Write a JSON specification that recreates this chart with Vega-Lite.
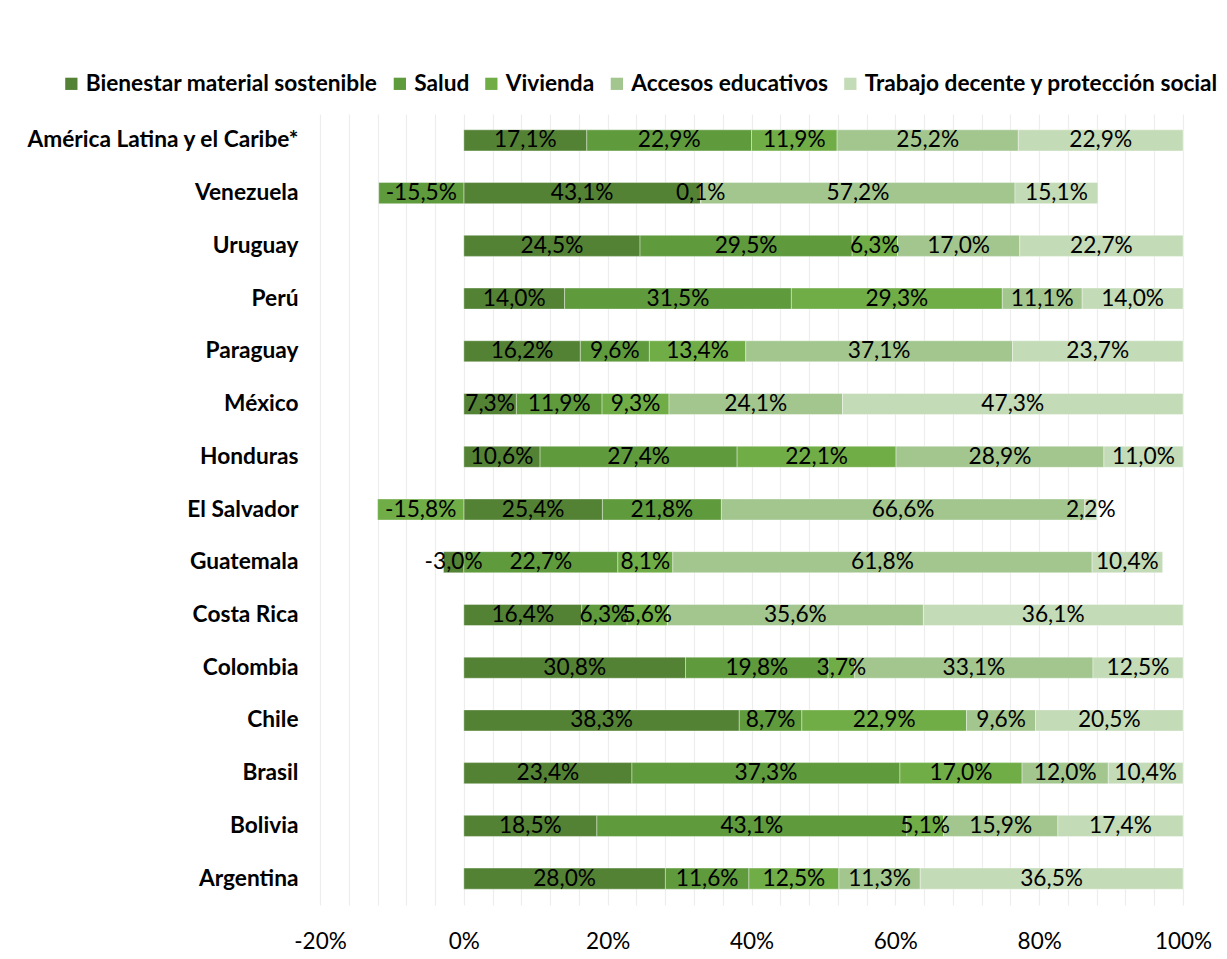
{
  "$schema": "https://vega.github.io/schema/vega-lite/v6.json",
  "width": 863,
  "height": 791,
  "autosize": {"type": "none"},
  "padding": {"left": 320, "top": 114, "right": 44, "bottom": 54},
  "background": "white",
  "config": {
    "font": "Lato",
    "view": {"stroke": null},
    "axisX": {"labelOverlap": false, "labelFlush": false, "tickCount": 100},
    "locale": {"number": {"decimal": ",", "thousands": ".", "grouping": [3], "currency": ["", ""], "minus": "-"}}
  },
  "data": {"values": [
    {"c": "América Latina y el Caribe*", "s": "Bienestar material sostenible", "k": 1, "v": 17.1},
    {"c": "América Latina y el Caribe*", "s": "Salud", "k": 2, "v": 22.9},
    {"c": "América Latina y el Caribe*", "s": "Vivienda", "k": 3, "v": 11.9},
    {"c": "América Latina y el Caribe*", "s": "Accesos educativos", "k": 4, "v": 25.2},
    {"c": "América Latina y el Caribe*", "s": "Trabajo decente y protección social", "k": 5, "v": 22.9},
    {"c": "Venezuela", "s": "Bienestar material sostenible", "k": 1, "v": 43.1},
    {"c": "Venezuela", "s": "Salud", "k": 2, "v": -15.5},
    {"c": "Venezuela", "s": "Vivienda", "k": 3, "v": 0.1},
    {"c": "Venezuela", "s": "Accesos educativos", "k": 4, "v": 57.2},
    {"c": "Venezuela", "s": "Trabajo decente y protección social", "k": 5, "v": 15.1},
    {"c": "Uruguay", "s": "Bienestar material sostenible", "k": 1, "v": 24.5},
    {"c": "Uruguay", "s": "Salud", "k": 2, "v": 29.5},
    {"c": "Uruguay", "s": "Vivienda", "k": 3, "v": 6.3},
    {"c": "Uruguay", "s": "Accesos educativos", "k": 4, "v": 17.0},
    {"c": "Uruguay", "s": "Trabajo decente y protección social", "k": 5, "v": 22.7},
    {"c": "Perú", "s": "Bienestar material sostenible", "k": 1, "v": 14.0},
    {"c": "Perú", "s": "Salud", "k": 2, "v": 31.5},
    {"c": "Perú", "s": "Vivienda", "k": 3, "v": 29.3},
    {"c": "Perú", "s": "Accesos educativos", "k": 4, "v": 11.1},
    {"c": "Perú", "s": "Trabajo decente y protección social", "k": 5, "v": 14.0},
    {"c": "Paraguay", "s": "Bienestar material sostenible", "k": 1, "v": 16.2},
    {"c": "Paraguay", "s": "Salud", "k": 2, "v": 9.6},
    {"c": "Paraguay", "s": "Vivienda", "k": 3, "v": 13.4},
    {"c": "Paraguay", "s": "Accesos educativos", "k": 4, "v": 37.1},
    {"c": "Paraguay", "s": "Trabajo decente y protección social", "k": 5, "v": 23.7},
    {"c": "México", "s": "Bienestar material sostenible", "k": 1, "v": 7.3},
    {"c": "México", "s": "Salud", "k": 2, "v": 11.9},
    {"c": "México", "s": "Vivienda", "k": 3, "v": 9.3},
    {"c": "México", "s": "Accesos educativos", "k": 4, "v": 24.1},
    {"c": "México", "s": "Trabajo decente y protección social", "k": 5, "v": 47.3},
    {"c": "Honduras", "s": "Bienestar material sostenible", "k": 1, "v": 10.6},
    {"c": "Honduras", "s": "Salud", "k": 2, "v": 27.4},
    {"c": "Honduras", "s": "Vivienda", "k": 3, "v": 22.1},
    {"c": "Honduras", "s": "Accesos educativos", "k": 4, "v": 28.9},
    {"c": "Honduras", "s": "Trabajo decente y protección social", "k": 5, "v": 11.0},
    {"c": "El Salvador", "s": "Bienestar material sostenible", "k": 1, "v": 25.4},
    {"c": "El Salvador", "s": "Salud", "k": 2, "v": 21.8},
    {"c": "El Salvador", "s": "Vivienda", "k": 3, "v": -15.8},
    {"c": "El Salvador", "s": "Accesos educativos", "k": 4, "v": 66.6},
    {"c": "El Salvador", "s": "Trabajo decente y protección social", "k": 5, "v": 2.2},
    {"c": "Guatemala", "s": "Bienestar material sostenible", "k": 1, "v": -3.0},
    {"c": "Guatemala", "s": "Salud", "k": 2, "v": 22.7},
    {"c": "Guatemala", "s": "Vivienda", "k": 3, "v": 8.1},
    {"c": "Guatemala", "s": "Accesos educativos", "k": 4, "v": 61.8},
    {"c": "Guatemala", "s": "Trabajo decente y protección social", "k": 5, "v": 10.4},
    {"c": "Costa Rica", "s": "Bienestar material sostenible", "k": 1, "v": 16.4},
    {"c": "Costa Rica", "s": "Salud", "k": 2, "v": 6.3},
    {"c": "Costa Rica", "s": "Vivienda", "k": 3, "v": 5.6},
    {"c": "Costa Rica", "s": "Accesos educativos", "k": 4, "v": 35.6},
    {"c": "Costa Rica", "s": "Trabajo decente y protección social", "k": 5, "v": 36.1},
    {"c": "Colombia", "s": "Bienestar material sostenible", "k": 1, "v": 30.8},
    {"c": "Colombia", "s": "Salud", "k": 2, "v": 19.8},
    {"c": "Colombia", "s": "Vivienda", "k": 3, "v": 3.7},
    {"c": "Colombia", "s": "Accesos educativos", "k": 4, "v": 33.1},
    {"c": "Colombia", "s": "Trabajo decente y protección social", "k": 5, "v": 12.5},
    {"c": "Chile", "s": "Bienestar material sostenible", "k": 1, "v": 38.3},
    {"c": "Chile", "s": "Salud", "k": 2, "v": 8.7},
    {"c": "Chile", "s": "Vivienda", "k": 3, "v": 22.9},
    {"c": "Chile", "s": "Accesos educativos", "k": 4, "v": 9.6},
    {"c": "Chile", "s": "Trabajo decente y protección social", "k": 5, "v": 20.5},
    {"c": "Brasil", "s": "Bienestar material sostenible", "k": 1, "v": 23.4},
    {"c": "Brasil", "s": "Salud", "k": 2, "v": 37.3},
    {"c": "Brasil", "s": "Vivienda", "k": 3, "v": 17.0},
    {"c": "Brasil", "s": "Accesos educativos", "k": 4, "v": 12.0},
    {"c": "Brasil", "s": "Trabajo decente y protección social", "k": 5, "v": 10.4},
    {"c": "Bolivia", "s": "Bienestar material sostenible", "k": 1, "v": 18.5},
    {"c": "Bolivia", "s": "Salud", "k": 2, "v": 43.1},
    {"c": "Bolivia", "s": "Vivienda", "k": 3, "v": 5.1},
    {"c": "Bolivia", "s": "Accesos educativos", "k": 4, "v": 15.9},
    {"c": "Bolivia", "s": "Trabajo decente y protección social", "k": 5, "v": 17.4},
    {"c": "Argentina", "s": "Bienestar material sostenible", "k": 1, "v": 28.0},
    {"c": "Argentina", "s": "Salud", "k": 2, "v": 11.6},
    {"c": "Argentina", "s": "Vivienda", "k": 3, "v": 12.5},
    {"c": "Argentina", "s": "Accesos educativos", "k": 4, "v": 11.3},
    {"c": "Argentina", "s": "Trabajo decente y protección social", "k": 5, "v": 36.5}
  ]},
  "transform": [
    {"calculate": "abs(datum.v)", "as": "a"},
    {"joinaggregate": [{"op": "sum", "field": "a", "as": "tot"}], "groupby": ["c"]},
    {"calculate": "datum.v / datum.tot", "as": "share"},
    {"stack": "share", "groupby": ["c"], "sort": [{"field": "k", "order": "ascending"}], "as": ["x0", "x1"]},
    {"calculate": "(datum.x0 + datum.x1) / 2", "as": "mid"},
    {"calculate": "replace(replace(format(datum.v, '.1f'), '.', ','), '−', '-') + '%'", "as": "lab"}
  ],
  "encoding": {
    "y": {
      "field": "c", "type": "nominal", "title": null,
      "sort": ["América Latina y el Caribe*", "Venezuela", "Uruguay", "Perú", "Paraguay", "México", "Honduras", "El Salvador", "Guatemala", "Costa Rica", "Colombia", "Chile", "Brasil", "Bolivia", "Argentina"],
      "scale": {"paddingInner": 0.6, "paddingOuter": 0.3},
      "axis": {"domain": false, "ticks": false, "labelFont": "Lato", "labelFontWeight": "bold", "labelFontSize": 22.7, "labelColor": "#000000", "labelPadding": 22, "labelLimit": 400}
    }
  },
  "layer": [
    {
      "mark": {"type": "bar", "stroke": "white", "strokeWidth": 0.75, "strokeOpacity": 0.5},
      "encoding": {
        "x": {
          "field": "x0", "type": "quantitative", "title": null,
          "scale": {"domain": [-0.2, 1.0], "nice": false, "zero": false},
          "axis": {
            "values": [-0.2, -0.16, -0.12, -0.08, -0.04, 0, 0.04, 0.08, 0.12, 0.16, 0.2, 0.24, 0.28, 0.32, 0.36, 0.4, 0.44, 0.48, 0.52, 0.56, 0.6, 0.64, 0.68, 0.72, 0.76, 0.8, 0.84, 0.88, 0.92, 0.96, 1.0],
            "tickCount": 100,
            "labelExpr": "abs(round(datum.value * 100)) % 20 == 0 ? replace(format(datum.value, '.0%'), '−', '-') : ''",
            "labelOverlap": false, "labelFlush": false, "labelBound": false,
            "domain": false, "ticks": false,
            "grid": true, "gridColor": "#EDEDED", "gridWidth": 1.2,
            "labelFont": "Lato", "labelFontSize": 22.5, "labelColor": "#000000", "labelPadding": 25
          }
        },
        "x2": {"field": "x1"},
        "color": {
          "field": "s", "type": "nominal",
          "scale": {
            "domain": ["Bienestar material sostenible", "Salud", "Vivienda", "Accesos educativos", "Trabajo decente y protección social"],
            "range": ["#548235", "#5F9A3D", "#70AD47", "#A3C68F", "#C4DBB7"]
          },
          "legend": {
            "title": null, "orient": "none", "direction": "horizontal",
            "legendX": -260, "legendY": -42,
            "symbolType": "square", "symbolSize": 150, "symbolStrokeWidth": 0,
            "labelFont": "Lato", "labelFontWeight": "bold", "labelFontSize": 22.7, "labelColor": "#000000",
            "labelOffset": 3, "columnPadding": 10.5, "labelLimit": 500
          }
        }
      }
    },
    {
      "mark": {"type": "text", "align": "center", "baseline": "middle", "fontSize": 22.7, "font": "Lato", "color": "#000000"},
      "encoding": {
        "x": {
          "field": "mid", "type": "quantitative",
          "axis": {
            "values": [-0.2, -0.16, -0.12, -0.08, -0.04, 0, 0.04, 0.08, 0.12, 0.16, 0.2, 0.24, 0.28, 0.32, 0.36, 0.4, 0.44, 0.48, 0.52, 0.56, 0.6, 0.64, 0.68, 0.72, 0.76, 0.8, 0.84, 0.88, 0.92, 0.96, 1.0],
            "tickCount": 100,
            "labelExpr": "abs(round(datum.value * 100)) % 20 == 0 ? replace(format(datum.value, '.0%'), '−', '-') : ''",
            "labelOverlap": false, "labelFlush": false, "labelBound": false,
            "domain": false, "ticks": false,
            "grid": true, "gridColor": "#EDEDED", "gridWidth": 1.2,
            "labelFont": "Lato", "labelFontSize": 22.5, "labelColor": "#000000", "labelPadding": 25
          }
        },
        "text": {"field": "lab"}
      }
    },
    {
      "mark": {"type": "rule", "color": "#4472C4", "strokeWidth": 2},
      "encoding": {"x": {"datum": 0}}
    }
  ]
}
